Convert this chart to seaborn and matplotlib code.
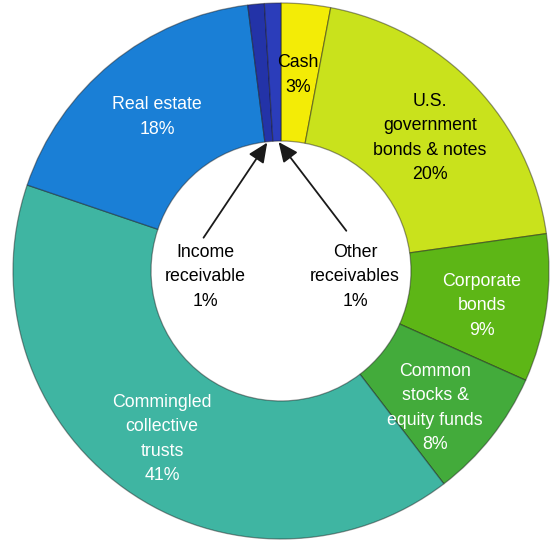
import matplotlib
matplotlib.use("Agg")
import matplotlib.pyplot as plt
import numpy as np
import seaborn as sns

# Plan asset allocation (clockwise from the top)
categories = ["Cash", "U.S. government bonds & notes", "Corporate bonds",
              "Common stocks & equity funds", "Commingled collective trusts",
              "Real estate", "Income receivable", "Other receivables"]
shares = [3, 20, 9, 8, 41, 18, 1, 1]
labels = ["Cash\n3%", "U.S.\ngovernment\nbonds & notes\n20%", "Corporate\nbonds\n9%",
          "Common\nstocks &\nequity funds\n8%", "Commingled\ncollective\ntrusts\n41%",
          "Real estate\n18%", "Income\nreceivable\n1%", "Other\nreceivables\n1%"]
colors = ["#f3ec06", "#c9e21c", "#5db616", "#43ab3b", "#3fb5a2",
          "#1a7fd6", "#2333a8", "#2b3dba"]
text_colors = ["black", "black", "white", "white", "white", "white", "black", "black"]

sns.set_theme(style="white")
plt.rcParams["font.family"] = ["Liberation Sans", "DejaVu Sans"]

W, H = 551, 544
fig = plt.figure(figsize=(W / 100, H / 100), dpi=100)
cx, cy, R = 281, 271, 268
ax = fig.add_axes([(cx - R) / W, (H - cy - R) / H, 2 * R / W, 2 * R / H])
inner = 0.485

wedges, _ = ax.pie(shares, colors=sns.color_palette(colors), startangle=90,
                   counterclock=False, radius=1.0,
                   wedgeprops=dict(width=1 - inner, edgecolor=(0.1, 0.1, 0.1, 0.45),
                                   linewidth=0.9))
ax.set_xlim(-1, 1)
ax.set_ylim(-1, 1)
ax.axis("off")


def px(x, y):
    return (x - cx) / R, (cy - y) / R


# label anchor points (pixel layout of the figure)
label_px = [(298, 75), (430, 138), (482, 306), (435, 408), (162, 439),
            (157, 117), (205, 277), (355, 277)]
for lab, (lx, ly), tc in zip(labels, label_px, text_colors):
    x, y = px(lx, ly)
    ax.text(x, y, lab, ha="center", va="center", color=tc, fontsize=12.8,
            linespacing=1.55)

# arrows from the small receivable labels to their slivers
tails = [(202, 240), (348, 233)]
for w, (tx, ty) in zip(wedges[6:], tails):
    mid = np.deg2rad((w.theta1 + w.theta2) / 2)
    hx, hy = inner * 1.01 * np.cos(mid), inner * 1.01 * np.sin(mid)
    ax.annotate("", xy=(hx, hy), xytext=px(tx, ty),
                arrowprops=dict(arrowstyle="-|>,head_length=1.0,head_width=0.45",
                                color="#1a1a1a", lw=1.3))

fig.savefig("out.png", dpi=100, facecolor="white")
